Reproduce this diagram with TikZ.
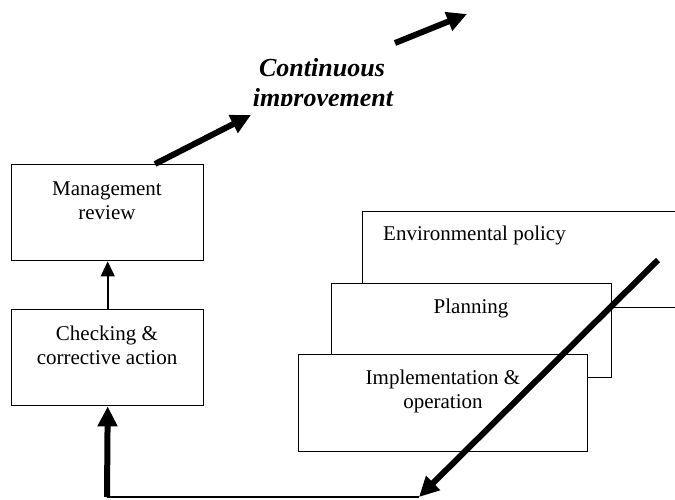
\documentclass[tikz,border=0pt]{standalone}
\usepackage{fontspec}
\setmainfont{Liberation Serif}
\usetikzlibrary{arrows.meta,calc}
\begin{document}
\begin{tikzpicture}[x=1pt,y=-1pt,
  box/.style={draw=black,line width=1.4pt,fill=white,inner sep=0pt,anchor=north west},
  lbl/.style={font=\fontsize{21}{24}\selectfont,align=center,inner sep=0pt},
  thinarrow/.style={line width=1.6pt,-{Triangle[length=15pt,width=14pt]}},
  fatarrow/.style={line width=6pt,-{Triangle[length=20pt,width=19pt]}},
  feedline/.style={line width=2pt},
  citext/.style={font=\fontsize{26}{29}\selectfont\bfseries\itshape,inner sep=0pt,anchor=base}]
\clip (0,0) rectangle (675,499);
% left column
\node[box,minimum width=192pt,minimum height=96pt] (mr) at (11,164) {};
\node[lbl] (mrt) at (107,201) {Management\\review};
\node[box,minimum width=192pt,minimum height=96pt] (chk) at (11,309) {};
\node[lbl] (chkt) at (107,345) {Checking \&\\corrective action};
% stacked boxes
\node[box,minimum width=340pt,minimum height=96pt] (env) at (362,211) {};
\node[lbl,anchor=west] (envt) at (383,235) {Environmental policy};
\node[box,minimum width=280pt,minimum height=94pt] (pl) at (331,283) {};
\node[lbl] (plt) at (471,308) {Planning};
\node[box,minimum width=289pt,minimum height=97pt] (imp) at (298,354) {};
\node[lbl] (impt) at (443,391.5) {Implementation \&\\operation};
% continuous improvement text (clipped at bottom)
\begin{scope}
\clip (150,40) rectangle (500,105);
\node[citext] (ci1) at (322,76) {Continuous};
\node[citext] (ci2) at (323,106.5) {improvement};
\end{scope}
% connectors
\draw[thinarrow] (chk.north) -- (mr.south);
\coordinate (dstart) at (658,260);
\coordinate (dend) at (419,497);
\coordinate (corner) at (107,497);
\draw[feedline] (dend) -- (corner);
\draw[fatarrow] (corner) -- (chk.south);
\draw[fatarrow] (dstart) -- (dend);
\coordinate (up1) at (251,115);
\draw[fatarrow] ($(mr.north west)+(144,0)$) -- (up1);
\coordinate (up2s) at (395,43);
\coordinate (up2e) at (467,14);
\draw[fatarrow] (up2s) -- (up2e);
\end{tikzpicture}
\end{document}
